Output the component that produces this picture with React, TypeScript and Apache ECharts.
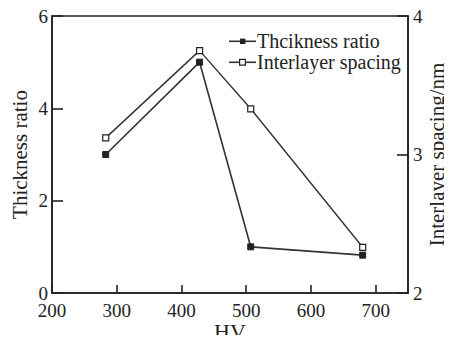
import React, { useEffect, useRef } from "react";
import * as echarts from "echarts";

const hv = [283, 428, 507, 680];
const thicknessRatio = [3.0, 5.0, 1.0, 0.82];
const interlayerSpacing = [3.12, 3.75, 3.33, 2.33];
const seriesNames = ["Thcikness ratio", "Interlayer spacing"];

const FONT = "Liberation Serif";
const INK = "#222";

function legendRow(name: string, y: number, filled: boolean) {
  return [
    {
      type: "line",
      shape: { x1: 229, y1: y, x2: 256, y2: y },
      style: { stroke: "#333", lineWidth: 1.6 },
      silent: true,
    },
    filled
      ? {
          type: "rect",
          shape: { x: 240, y: y - 2.7, width: 5.4, height: 5.4 },
          style: { fill: "#222" },
          silent: true,
        }
      : {
          type: "rect",
          shape: { x: 239.6, y: y - 2.9, width: 5.8, height: 5.8 },
          style: { fill: "#fff", stroke: "#222", lineWidth: 1.2 },
          silent: true,
        },
    {
      type: "text",
      x: 257,
      y,
      style: {
        text: name,
        fill: INK,
        font: "20px Liberation Serif",
        fontFamily: FONT,
        fontSize: 20,
        verticalAlign: "middle",
        align: "left",
      },
      silent: true,
    },
  ];
}

export default function App() {
  const ref = useRef<HTMLDivElement>(null);
  useEffect(() => {
    if (!ref.current) return;
    const chart = echarts.init(ref.current, undefined, { renderer: "svg" });
    const axisCommon = {
      axisLine: { show: true, lineStyle: { color: INK, width: 1.6 } },
      splitLine: { show: false },
      nameMoveOverlap: false,
      axisLabel: { color: INK, fontFamily: FONT, fontSize: 19 },
      nameTextStyle: { color: INK, fontFamily: FONT, fontSize: 21 },
    };
    chart.setOption({
      animation: false,
      backgroundColor: "#fff",
      textStyle: { fontFamily: FONT },
      grid: {
        left: 52,
        right: 44,
        top: 16,
        bottom: 50,
        show: true,
        borderColor: INK,
        borderWidth: 1.6,
        containLabel: false,
        outerBoundsMode: "none",
      },
      graphic: [...legendRow(seriesNames[0], 41.3, true), ...legendRow(seriesNames[1], 62.3, false)],
      xAxis: {
        type: "value",
        min: 200,
        max: 750,
        interval: 100,
        name: "HV",
        nameLocation: "middle",
        nameGap: 27,
        ...axisCommon,
        nameTextStyle: { ...axisCommon.nameTextStyle, fontSize: 22 },
        axisTick: { show: true, inside: true, length: 8, lineStyle: { color: INK, width: 1.6 } },
        axisLabel: { ...axisCommon.axisLabel, margin: 8, showMaxLabel: false },
      },
      yAxis: [
        {
          type: "value",
          min: 0,
          max: 6,
          interval: 2,
          name: "Thickness ratio",
          nameLocation: "middle",
          nameGap: 22,
          ...axisCommon,
          axisTick: { show: true, inside: true, length: 11, lineStyle: { color: INK, width: 1.6 } },
          axisLabel: { ...axisCommon.axisLabel, margin: 4 },
        },
        {
          type: "value",
          min: 2,
          max: 4,
          interval: 1,
          position: "right",
          name: "Interlayer spacing/nm",
          nameLocation: "middle",
          nameGap: 18,
          nameRotate: 90,
          ...axisCommon,
          axisTick: { show: true, inside: true, length: 11, lineStyle: { color: INK, width: 1.6 } },
          axisLabel: { ...axisCommon.axisLabel, margin: 5 },
        },
      ],
      series: [
        {
          name: seriesNames[0],
          type: "line",
          yAxisIndex: 0,
          data: hv.map((x, i) => [x, thicknessRatio[i]]),
          symbol: "rect",
          symbolSize: 6,
          lineStyle: { color: "#333", width: 1.6 },
          itemStyle: { color: "#222", borderColor: "#222", borderWidth: 1 },
        },
        {
          name: seriesNames[1],
          type: "line",
          yAxisIndex: 1,
          data: hv.map((x, i) => [x, interlayerSpacing[i]]),
          symbol: "rect",
          symbolSize: 6,
          lineStyle: { color: "#333", width: 1.4 },
          itemStyle: { color: "#fff", borderColor: "#222", borderWidth: 1.2 },
        },
      ],
    });
    return () => chart.dispose();
  }, []);
  return <div ref={ref} style={{ width: 452, height: 343, margin: -8 }} />;
}
